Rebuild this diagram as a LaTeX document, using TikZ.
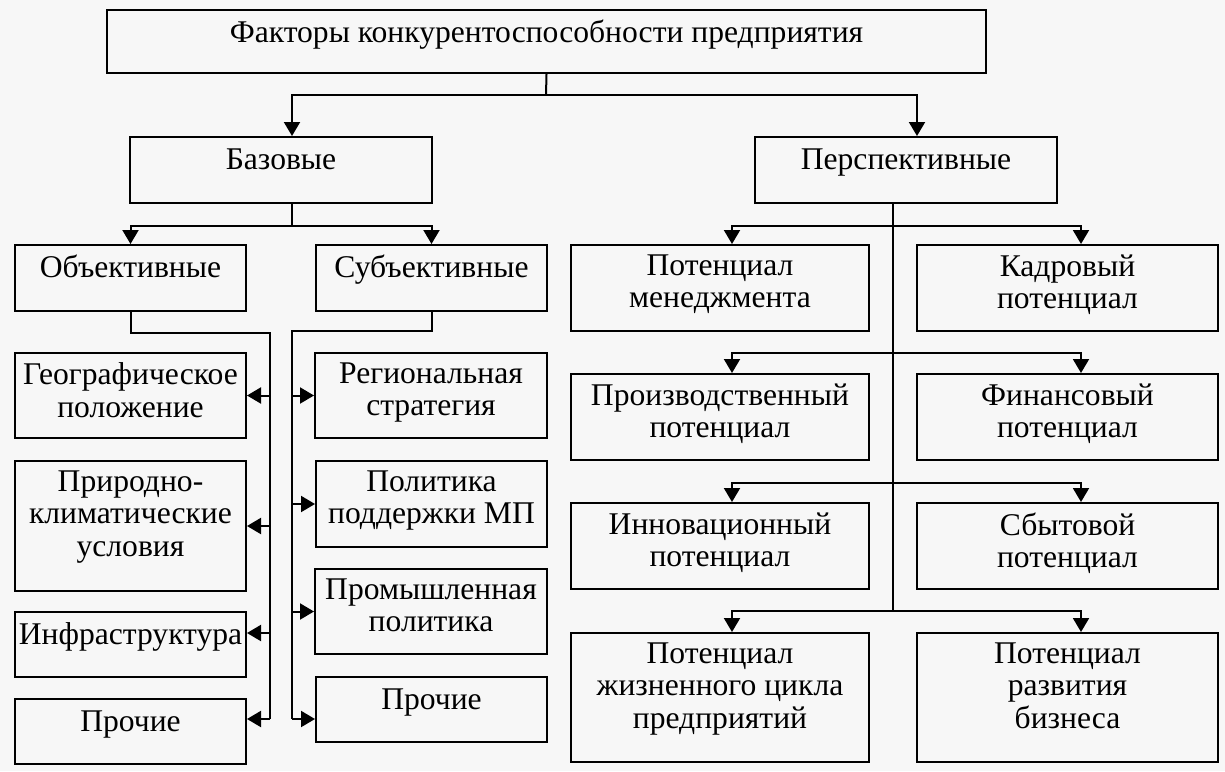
\documentclass[tikz,border=0pt]{standalone}
\usepackage{fontspec}
\setmainfont{Liberation Serif}
\usetikzlibrary{arrows.meta,fit}
\tikzset{
  box/.style={draw, line width=1pt, inner sep=0pt},
  lbl/.style={anchor=north, inner sep=0pt, align=center,
    font=\fontsize{15.8}{16.4}\selectfont, execute at begin node=\strut},
  conn/.style={line width=1pt},
  arr/.style={line width=1pt, -{Triangle[length=7pt,width=8pt]}},
}
\newcommand\mkbox[6]{%
  \node[box, fit={(#2,#3) (#4,#5)}] (#1) {};
  \node[lbl] (#1-t) at ([yshift=-5pt]#1.north) {#6};}
\begin{document}
\begin{tikzpicture}[x=0.5pt,y=-0.5pt]
\fill[white!97!black] (0,0) rectangle (1225,771);
\useasboundingbox (0,0) rectangle (1225,771);
% boxes
\mkbox{top}{107}{10}{986}{73}{Факторы конкурентоспособности предприятия}
\mkbox{baz}{130}{137}{432}{203}{Базовые}
\mkbox{persp}{755}{137}{1057}{203}{Перспективные}
\mkbox{obj}{15}{245}{246}{311}{Объективные}
\mkbox{subj}{316}{245}{547}{311}{Субъективные}
\mkbox{geo}{15}{353}{246}{438}{Географическое\\положение}
\mkbox{prir}{15}{461}{246}{591}{Природно-\\климатические\\условия}
\mkbox{infra}{15}{612}{246}{677}{Инфраструктура}
\mkbox{proL}{15}{699}{246}{764}{Прочие}
\mkbox{reg}{315}{353}{547}{438}{Региональная\\стратегия}
\mkbox{pol}{316}{461}{547}{547}{Политика\\поддержки МП}
\mkbox{prom}{315}{569}{547}{654}{Промышленная\\политика}
\mkbox{proR}{316}{677}{547}{742}{Прочие}
\mkbox{men}{571}{245}{869}{331}{Потенциал\\менеджмента}
\mkbox{kadr}{917}{245}{1218}{331}{Кадровый\\потенциал}
\mkbox{proiz}{571}{374}{869}{460}{Производственный\\потенциал}
\mkbox{fin}{917}{374}{1218}{460}{Финансовый\\потенциал}
\mkbox{inn}{571}{503}{869}{589}{Инновационный\\потенциал}
\mkbox{sbyt}{917}{503}{1218}{589}{Сбытовой\\потенциал}
\mkbox{zhiz}{571}{633}{869}{762}{Потенциал\\жизненного цикла\\предприятий}
\mkbox{razv}{917}{633}{1218}{762}{Потенциал\\развития\\бизнеса}
% helper coordinates
\coordinate (t1) at (546,95);
\coordinate (bx) at (292,0);
\coordinate (px) at (917,0);
\coordinate (bj) at (292,226);
\coordinate (lj) at (270,333);
\coordinate (lb) at (270,719);
\coordinate (rj) at (292,331);
\coordinate (rb) at (292,719);
\coordinate (pt) at (893,203);
\coordinate (pb) at (893,611);
\coordinate (cl) at (732,0);
\coordinate (cr) at (1081,0);
\coordinate (b1) at (893,226);
\coordinate (b2) at (893,353);
\coordinate (b3) at (893,483);
\coordinate (b4) at (893,611);
\coordinate (a3) at (270,633);
% top level
\draw[conn] (top.south) -- (t1);
\draw[arr] (t1) -| (bx |- baz.north);
\draw[arr] (t1) -| (px |- persp.north);
% base
\draw[conn] (bx |- baz.south) -- (bj);
\draw[arr] (bj) -| (obj.north);
\draw[arr] (bj) -| (subj.north);
% objective
\draw[conn] (obj.south) |- (lj) -- (lb);
\draw[arr] (lj |- geo.east) -- (geo.east);
\draw[arr] (lj |- prir.east) -- (prir.east);
\draw[arr] (a3) -- (a3 -| infra.east);
\draw[arr] (lb) -- (lb -| proL.east);
% subjective
\draw[conn] (subj.south) |- (rj) -- (rb);
\draw[arr] (rj |- reg.west) -- (reg.west);
\draw[arr] (rj |- pol.west) -- (pol.west);
\draw[arr] (rj |- prom.west) -- (prom.west);
\draw[arr] (rb) -- (rb -| proR.west);
% perspective
\draw[conn] (pt) -- (pb);
\draw[arr] (b1) -| (cl |- men.north);
\draw[arr] (b1) -| (cr |- kadr.north);
\draw[arr] (b2) -| (cl |- proiz.north);
\draw[arr] (b2) -| (cr |- fin.north);
\draw[arr] (b3) -| (cl |- inn.north);
\draw[arr] (b3) -| (cr |- sbyt.north);
\draw[arr] (b4) -| (cl |- zhiz.north);
\draw[arr] (b4) -| (cr |- razv.north);
\end{tikzpicture}
\end{document}
